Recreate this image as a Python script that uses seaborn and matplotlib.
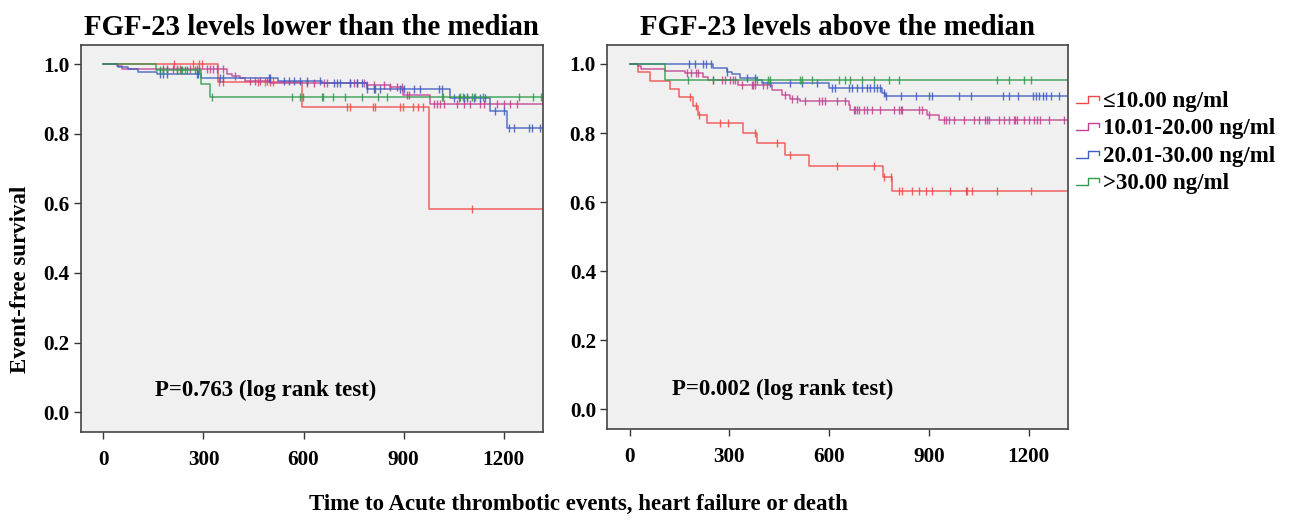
import numpy as np
import pandas as pd
import matplotlib
matplotlib.use("Agg")
import matplotlib.pyplot as plt
import seaborn as sns
from matplotlib.lines import Line2D
from matplotlib.legend_handler import HandlerLine2D

# --- data (days, event-free survival) ---
groups = ["\u226410.00 ng/ml", "10.01-20.00 ng/ml", "20.01-30.00 ng/ml", ">30.00 ng/ml"]
colors = ["#f04848", "#c2408f", "#3f5cc0", "#2e9a4a"]

# lower-than-median panel
low_red_t = [0, 344, 596, 975]
low_red_s = [1.0, 0.949, 0.876, 0.583]
low_red_c = [212, 270, 288, 296, 347, 359, 464, 485, 500, 509, 729, 738, 808, 814, 888, 897, 927, 942, 957, 1105]

low_mag_t = [0, 40, 55, 371, 385, 410, 425, 500, 790, 860, 898, 978]
low_mag_s = [1.0, 0.994, 0.986, 0.973, 0.966, 0.959, 0.951, 0.946, 0.940, 0.933, 0.912, 0.886]
low_mag_c = [180, 190, 210, 220, 230, 260, 280, 310, 320, 330, 340, 360, 395, 440, 455, 470, 490, 610,
             630, 660, 670, 740, 750, 760, 780, 790, 810, 840, 860, 880, 895, 910, 915, 990, 1000, 1010,
             1020, 1060, 1080, 1100, 1130, 1140, 1180, 1200, 1220, 1240]

low_blu_t = [0, 43, 74, 104, 160, 293, 523, 655, 790, 1040, 1160, 1210]
low_blu_s = [1.0, 0.992, 0.985, 0.977, 0.971, 0.961, 0.953, 0.947, 0.928, 0.904, 0.865, 0.817]
low_blu_c = [170, 180, 192, 280, 285, 350, 360, 495, 500, 540, 555, 570, 590, 610, 650, 690, 700, 710,
             740, 760, 775, 790, 810, 815, 830, 890, 900, 930, 950, 1005, 1015, 1050, 1065, 1080, 1090,
             1110, 1130, 1145, 1175, 1200, 1215, 1230, 1275, 1285, 1310]

low_grn_t = [0, 158, 293, 320]
low_grn_s = [1.0, 0.983, 0.942, 0.906]
low_grn_c = [170, 179, 191, 221, 233, 236, 245, 251, 275, 287, 326, 566, 590, 599, 655, 659, 688, 724,
             774, 823, 850, 1014, 1017, 1068, 1077, 1089, 1104, 1113, 1137, 1247, 1287, 1312]

# above-median panel
high_red_t = [0, 25, 62, 121, 148, 191, 206, 233, 342, 384, 468, 538, 762, 788]
high_red_s = [1.0, 0.976, 0.951, 0.927, 0.903, 0.879, 0.852, 0.828, 0.799, 0.770, 0.737, 0.706, 0.674, 0.631]
high_red_c = [183, 201, 208, 272, 297, 377, 443, 483, 624, 734, 765, 785, 810, 820, 850, 870, 890, 910,
              964, 1011, 1016, 1031, 1104, 1207]

high_mag_t = [0, 25, 35, 106, 166, 221, 236, 327, 428, 458, 483, 513, 659, 664, 895, 930]
high_mag_s = [1.0, 0.994, 0.984, 0.980, 0.973, 0.963, 0.953, 0.939, 0.925, 0.910, 0.900, 0.893, 0.881,
              0.867, 0.852, 0.838]
high_mag_c = [173, 186, 200, 206, 252, 277, 287, 302, 312, 317, 337, 367, 372, 377, 402, 412, 468, 488,
              503, 528, 568, 578, 588, 624, 649, 674, 679, 684, 689, 704, 714, 729, 754, 795, 810, 815,
              820, 870, 880, 900, 945, 950, 960, 975, 1005, 1035, 1050, 1070, 1075, 1080, 1110, 1125,
              1140, 1155, 1160, 1165, 1185, 1200, 1215, 1225, 1235, 1260, 1305]

high_blu_t = [0, 251, 292, 307, 332, 382, 397, 599, 759, 769]
high_blu_s = [1.0, 0.987, 0.977, 0.970, 0.960, 0.953, 0.946, 0.929, 0.915, 0.907]
high_blu_c = [179, 196, 221, 231, 246, 292, 352, 377, 423, 483, 518, 563, 609, 619, 659, 669, 684, 699,
              714, 724, 734, 744, 754, 765, 770, 815, 860, 900, 910, 991, 1026, 1122, 1142, 1167, 1212,
              1222, 1232, 1242, 1252, 1267, 1292]

high_grn_t = [0, 106]
high_grn_s = [1.0, 0.955]
high_grn_c = [176, 252, 382, 417, 422, 513, 518, 548, 629, 649, 664, 699, 734, 780, 810, 1106, 1142,
              1187, 1207]

t_end = [1320, 1320]
panel_titles = ["FGF-23 levels lower than the median", "FGF-23 levels above the median"]
p_texts = ["P=0.763 (log rank test)", "P=0.002 (log rank test)"]
x_ticks = [0, 300, 600, 900, 1200]
y_ticks = [0.0, 0.2, 0.4, 0.6, 0.8, 1.0]


def surv_at(times, surv, t):
    idx = np.searchsorted(times, t, side="right") - 1
    return np.asarray(surv)[idx]


def curve_frame(times, surv, end):
    return pd.DataFrame({"t": list(times) + [end], "s": list(surv) + [surv[-1]]})


class StepHandler(HandlerLine2D):
    # small km-style step glyph for the legend
    def create_artists(self, legend, orig_handle, xdescent, ydescent, width, height, fontsize, trans):
        x0 = -xdescent
        y0 = -ydescent
        xs = [x0, x0 + 0.5 * width, x0 + 0.5 * width, x0 + width, x0 + width]
        ys = [y0 + 0.25 * height, y0 + 0.25 * height, y0 + 0.7 * height, y0 + 0.7 * height, y0 + 0.45 * height]
        ln = Line2D(xs, ys, color=orig_handle.get_color(), lw=1.0, transform=trans)
        return [ln]


sns.set_theme(style="white")
plt.rcParams["font.family"] = ["Liberation Serif", "DejaVu Serif"]
plt.rcParams["font.weight"] = "bold"
plt.rcParams["text.color"] = "black"
plt.rcParams["xtick.color"] = "black"
plt.rcParams["ytick.color"] = "black"

fig = plt.figure(figsize=(12.89, 5.2), dpi=100)
ax_low = fig.add_axes([0.0626, 0.1692, 0.3587, 0.7442])
ax_high = fig.add_axes([0.4709, 0.1750, 0.3576, 0.7385])

panels = [
    (ax_low, [(low_red_t, low_red_s, low_red_c), (low_mag_t, low_mag_s, low_mag_c),
              (low_blu_t, low_blu_s, low_blu_c), (low_grn_t, low_grn_s, low_grn_c)]),
    (ax_high, [(high_red_t, high_red_s, high_red_c), (high_mag_t, high_mag_s, high_mag_c),
               (high_blu_t, high_blu_s, high_blu_c), (high_grn_t, high_grn_s, high_grn_c)]),
]

p_pos = [(155, 0.063), (127, 0.058)]

for k, (ax, curves) in enumerate(panels):
    ax.set_facecolor("#f0f0f0")
    for (times, surv, cens), col in zip(curves, colors):
        df = curve_frame(times, surv, t_end[k])
        sns.lineplot(data=df, x="t", y="s", ax=ax, color=col, lw=1.1, alpha=0.85,
                     drawstyle="steps-post", estimator=None, sort=False)
        cy = surv_at(times, surv, cens)
        ax.plot(cens, cy, ls="none", marker="|", ms=6, mew=1.0, color=col, alpha=0.85)
    ax.set_xlim(-68, 1318)
    ax.set_ylim(-0.057, 1.055)
    ax.set_xticks(x_ticks)
    ax.set_yticks(y_ticks)
    ax.set_yticklabels([f"{v:.1f}" for v in y_ticks])
    ax.tick_params(axis="both", direction="out", length=5, width=1.0, color="#333333",
                   labelsize=15.2, pad=3, left=True, bottom=True)
    ax.tick_params(axis="x", pad=8)
    for lab in ax.get_xticklabels() + ax.get_yticklabels():
        lab.set_fontweight("bold")
    for sp in ax.spines.values():
        sp.set_color("#444444")
        sp.set_linewidth(1.2)
    ax.set_xlabel("")
    ax.set_ylabel("")
    ax.set_title(panel_titles[k], fontsize=20.8, fontweight="bold", pad=7)
    ax.text(p_pos[k][0], p_pos[k][1], p_texts[k], fontsize=16.5, fontweight="bold", va="center", ha="left")

fig.text(0.016, 0.462, "Event-free survival", rotation=90, fontsize=16.5, fontweight="bold",
         ha="center", va="center")
fig.text(0.4484, 0.029, "Time to Acute thrombotic events, heart failure or death", fontsize=16.5,
         fontweight="bold", ha="center", va="center")

handles = [Line2D([], [], color=c) for c in colors]
fig.legend(handles, groups, loc="upper left", bbox_to_anchor=(0.828, 0.843), frameon=False,
           handler_map={Line2D: StepHandler()}, prop={"size": 16.5, "weight": "bold"},
           handlelength=1.0, handletextpad=0.15, labelspacing=0.28, borderaxespad=0)

fig.savefig("out.png", dpi=100, facecolor="white")
